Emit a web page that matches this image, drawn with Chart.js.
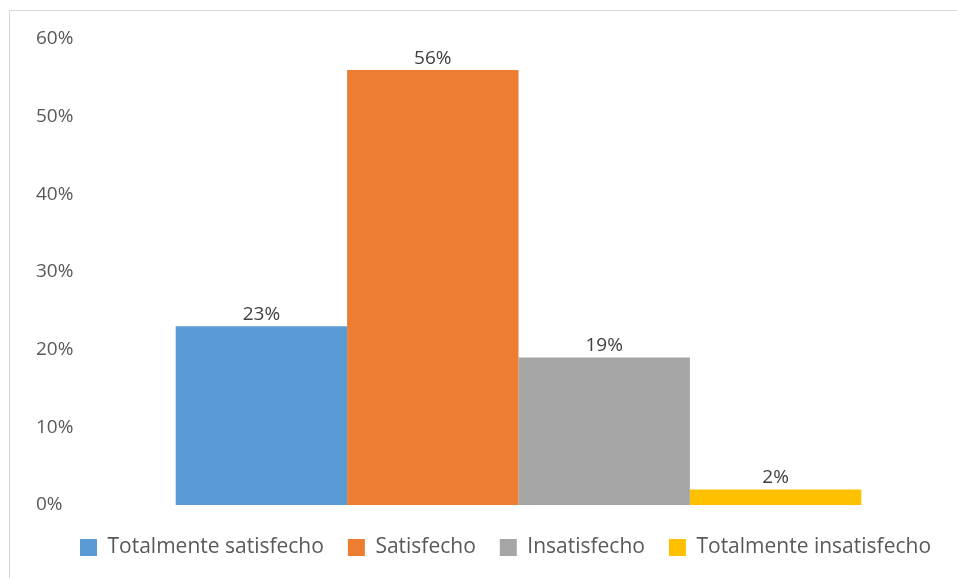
<!doctype html>
<html lang="es">
  <head>
    <meta charset="UTF-8" />
    <title>Satisfacción</title>
    <style>
      html, body { margin: 0; padding: 0; background: #fff; }
      #frame {
        position: absolute;
        left: 9px;
        top: 10px;
        width: 947px;
        height: 567px;
        border-top: 1px solid #d9d9d9;
        border-left: 1px solid #d9d9d9;
      }
    </style>
  </head>

  <body>
    <div id="frame"><canvas id="chart"></canvas></div>

    <script src="https://cdn.jsdelivr.net/npm/chart.js@4"></script>

    <script>
      const categories = ['Totalmente satisfecho', 'Satisfecho', 'Insatisfecho', 'Totalmente insatisfecho']
      const values = [23, 56, 19, 2]
      const colors = ['#5b9bd5', '#ed7d31', '#a5a5a5', '#ffc000']
      const yTicks = [0, 10, 20, 30, 40, 50, 60]

      const FONT = '"Open Sans", "DejaVu Sans", sans-serif'
      const TEXT = '#595959'

      // value labels above each bar
      const barLabels = {
        id: 'barLabels',
        afterDatasetsDraw(chart) {
          const { ctx } = chart
          ctx.save()
          ctx.font = `19px ${FONT}`
          ctx.fillStyle = '#404040'
          ctx.textAlign = 'center'
          ctx.textBaseline = 'bottom'
          chart.data.datasets.forEach((ds, i) => {
            chart.getDatasetMeta(i).data.forEach((bar, j) => {
              ctx.fillText(ds.data[j] + '%', bar.x, bar.y - 2)
            })
          })
          ctx.restore()
        },
      }

      // legend sits centred under the plot area, not the whole canvas
      const legendShift = {
        id: 'legendShift',
        afterUpdate(chart) {
          chart.legend.left += 14
          chart.legend.right += 14
        },
      }

      const datasets = categories.map((name, i) => ({
        label: name,
        data: [values[i]],
        backgroundColor: colors[i],
        borderWidth: 0,
        barPercentage: 1,
        categoryPercentage: 0.8,
      }))

      new Chart(document.getElementById('chart'), {
        type: 'bar',
        data: { labels: [''], datasets },
        plugins: [barLabels, legendShift],
        options: {
          responsive: true,
          maintainAspectRatio: false,
          animation: false,
          layout: { padding: { left: 26, right: 10, top: 28, bottom: 10 } },
          plugins: {
            tooltip: { enabled: false },
            legend: {
              position: 'bottom',
              labels: {
                boxWidth: 17,
                boxHeight: 17,
                padding: 24,
                color: TEXT,
                font: { family: FONT, size: 21 },
              },
            },
          },
          scales: {
            x: {
              afterFit(scale) { scale.height = 8 },
              grid: { display: false },
              border: { display: false },
              ticks: { display: false },
            },
            y: {
              min: 0,
              max: 60,
              afterFit(scale) { scale.width = 54 },
              afterBuildTicks(scale) { scale.ticks = yTicks.map((v) => ({ value: v })) },
              grid: { display: false },
              border: { display: false },
              ticks: {
                crossAlign: 'far',
                color: TEXT,
                font: { family: FONT, size: 19 },
                callback: (v) => v + '%',
              },
            },
          },
        },
      })
    </script>
  </body>
</html>
